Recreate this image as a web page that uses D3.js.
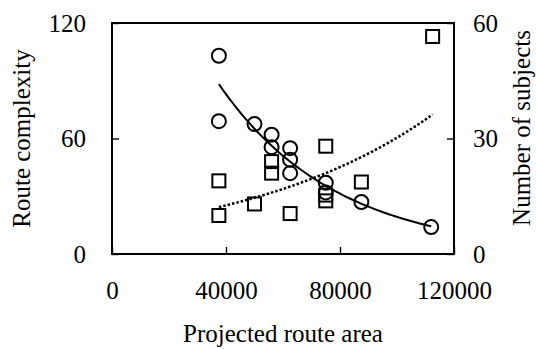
<!DOCTYPE html>
<html>
<head>
<meta charset="utf-8">
<script src="https://cdn.jsdelivr.net/npm/d3@7"></script>
<style>
  body { margin: 0; background: #fff; }
  svg { display: block; }
  text { font-family: "Liberation Serif", "Times New Roman", serif; }
</style>
</head>
<body>
<script>
// route complexity (circles, left axis)
const areaCircles = [37500, 37500, 50000, 56000, 56000, 62500, 62500, 62500, 75000, 75000, 87500, 112000];
const complexity  = [103, 69, 67.5, 62, 55.5, 55, 49, 42, 37, 32, 27, 14];

// number of subjects (squares, right axis)
const areaSquares = [37500, 37500, 50000, 56000, 56000, 62500, 75000, 75000, 75000, 87500, 112500];
const subjects    = [19, 10, 13, 24, 21, 10.5, 28, 15.3, 13.8, 18.7, 56.5];

const xTicks = [0, 40000, 80000, 120000];
const leftTicks = [0, 60, 120];
const rightTicks = [0, 30, 60];

const width = 536, height = 349;
const margin = { top: 23, right: 82, bottom: 95, left: 112 };
const serif = '"Liberation Serif", "Times New Roman", serif';

const svg = d3.select("body").append("svg")
    .attr("width", width)
    .attr("height", height);

const x = d3.scaleLinear().domain([0, 120000]).range([margin.left, width - margin.right]);
const yL = d3.scaleLinear().domain([0, 120]).range([height - margin.bottom, margin.top]);
const yR = d3.scaleLinear().domain([0, 60]).range([height - margin.bottom, margin.top]);

// Excel style exponential trendline: least squares on ln(y)
function expFit(xs, ys) {
    const ly = ys.map(v => Math.log(v));
    const mx = d3.mean(xs), my = d3.mean(ly);
    let sxy = 0, sxx = 0;
    xs.forEach((v, i) => { sxy += (v - mx) * (ly[i] - my); sxx += (v - mx) * (v - mx); });
    const b = sxy / sxx;
    const a = Math.exp(my - b * mx);
    return v => a * Math.exp(b * v);
}

function trendPoints(xs, ys) {
    const f = expFit(xs, ys);
    const [lo, hi] = d3.extent(xs);
    return d3.range(0, 61).map(i => {
        const v = lo + (hi - lo) * i / 60;
        return [v, f(v)];
    });
}

const fontSize = 25;

function styleAxis(g) {
    g.attr("font-family", null).attr("font-size", null);
    g.select(".domain").remove();
    g.selectAll(".tick line").attr("stroke", "#000").attr("stroke-width", 1.4);
    g.selectAll(".tick text")
        .attr("fill", "#000")
        .style("font-family", serif)
        .style("font-size", fontSize + "px");
}

// axes
svg.append("g")
    .attr("transform", `translate(${margin.left},0)`)
    .call(d3.axisLeft(yL).tickValues(leftTicks).tickSizeInner(-7).tickSizeOuter(0).tickPadding(26))
    .call(styleAxis);

svg.append("g")
    .attr("transform", `translate(${width - margin.right},0)`)
    .call(d3.axisRight(yR).tickValues(rightTicks).tickSizeInner(-7).tickSizeOuter(0).tickPadding(19))
    .call(styleAxis);

svg.append("g")
    .attr("transform", `translate(0,${height - margin.bottom})`)
    .call(d3.axisBottom(x).tickValues(xTicks).tickFormat(d3.format("d")).tickSizeInner(-7).tickSizeOuter(0).tickPadding(27))
    .call(styleAxis);

// frame
svg.append("rect")
    .attr("x", margin.left)
    .attr("y", margin.top)
    .attr("width", width - margin.left - margin.right)
    .attr("height", height - margin.top - margin.bottom)
    .attr("fill", "none")
    .attr("stroke", "#000")
    .attr("stroke-width", 2);

// trendlines
svg.append("path")
    .datum(trendPoints(areaCircles, complexity))
    .attr("fill", "none")
    .attr("stroke", "#000")
    .attr("stroke-width", 2)
    .attr("d", d3.line().x(d => x(d[0])).y(d => yL(d[1])));

svg.append("path")
    .datum(trendPoints(areaSquares, subjects))
    .attr("fill", "none")
    .attr("stroke", "#000")
    .attr("stroke-width", 2.5)
    .attr("stroke-dasharray", "2.5,2")
    .attr("d", d3.line().x(d => x(d[0])).y(d => yR(d[1])));

// markers
svg.append("g").selectAll("circle")
    .data(areaCircles.map((v, i) => [v, complexity[i]]))
    .join("circle")
    .attr("cx", d => x(d[0]))
    .attr("cy", d => yL(d[1]))
    .attr("r", 7)
    .attr("fill", "none")
    .attr("stroke", "#000")
    .attr("stroke-width", 2);

const sq = 13;
svg.append("g").selectAll("rect")
    .data(areaSquares.map((v, i) => [v, subjects[i]]))
    .join("rect")
    .attr("x", d => x(d[0]) - sq / 2)
    .attr("y", d => yR(d[1]) - sq / 2)
    .attr("width", sq)
    .attr("height", sq)
    .attr("fill", "none")
    .attr("stroke", "#000")
    .attr("stroke-width", 2);

// axis titles
svg.append("text")
    .attr("x", (margin.left + width - margin.right) / 2)
    .attr("y", 342)
    .attr("text-anchor", "middle")
    .style("font-family", serif)
    .style("font-size", fontSize + "px")
    .text("Projected route area");

svg.append("text")
    .attr("transform", `translate(30,${(margin.top + height - margin.bottom) / 2}) rotate(-90)`)
    .attr("text-anchor", "middle")
    .style("font-family", serif)
    .style("font-size", fontSize + "px")
    .text("Route complexity");

svg.append("text")
    .attr("transform", `translate(530,128) rotate(-90)`)
    .attr("text-anchor", "middle")
    .style("font-family", serif)
    .style("font-size", fontSize + "px")
    .text("Number of subjects");
</script>
</body>
</html>
